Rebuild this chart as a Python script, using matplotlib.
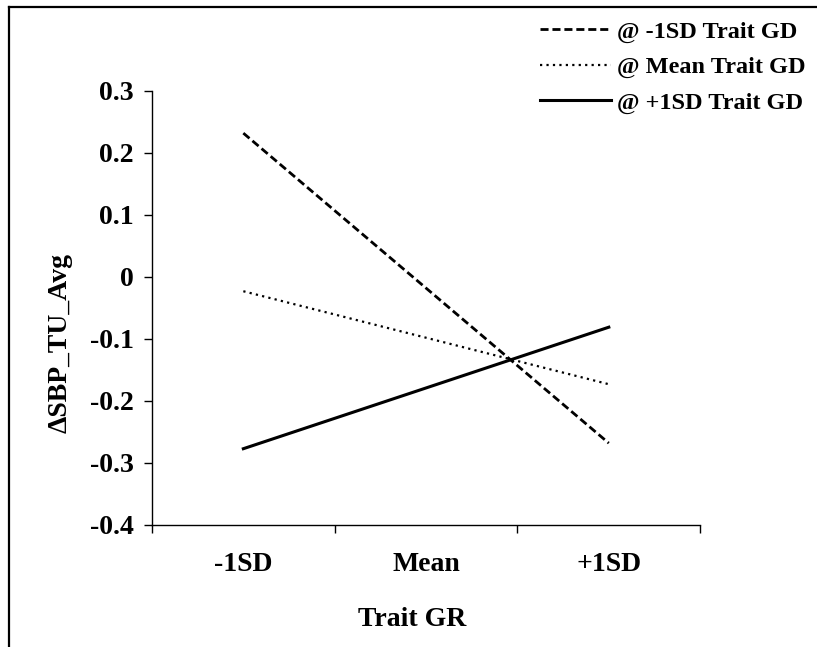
import matplotlib.pyplot as plt
from matplotlib.lines import Line2D

plt.rcParams['font.family'] = ['Liberation Serif', 'DejaVu Serif']
plt.rcParams['font.weight'] = 'bold'

# simple slopes of Trait GR at three levels of Trait GD
categories = ['-1SD', 'Mean', '+1SD']
low_gd = [0.232, -0.018, -0.268]
mean_gd = [-0.023, -0.098, -0.173]
high_gd = [-0.277, -0.179, -0.081]
series_names = ['@ -1SD Trait GD', '@ Mean Trait GD', '@ +1SD Trait GD']
y_ticks = [0.3, 0.2, 0.1, 0, -0.1, -0.2, -0.3, -0.4]

DASH = (0, (2.9, 1.4))
DOT = (0, (1, 1.9))

fig = plt.figure(figsize=(8.17, 6.47), dpi=100)
ax = fig.add_axes([0.186, 0.1886, 0.671, 0.6708])

x = range(len(categories))
ax.plot(x, low_gd, color='black', lw=2.0, ls=DASH)
ax.plot(x, mean_gd, color='black', lw=1.6, ls=DOT)
ax.plot(x, high_gd, color='black', lw=2.2, ls='-')

ax.set_xlim(-0.5, 2.5)
ax.set_ylim(-0.4, 0.3)
ax.set_yticks(y_ticks)
ax.set_yticklabels([('%g' % v) for v in y_ticks])
ax.set_xticks([-0.5, 0.5, 1.5, 2.5])
ax.set_xticklabels([])
ax.set_xticks(list(x), minor=True)
ax.set_xticklabels(categories, minor=True)
ax.tick_params(axis='x', which='minor', length=0, pad=19.5, labelsize=20)
ax.tick_params(axis='x', which='major', length=6, width=1, direction='out')
ax.tick_params(axis='y', length=6, width=1, direction='out', pad=7, labelsize=20)

for side in ['top', 'right']:
    ax.spines[side].set_visible(False)
for side in ['left', 'bottom']:
    ax.spines[side].set_linewidth(1)

ax.set_xlabel('Trait GR', fontsize=20, fontweight='bold')
ax.xaxis.set_label_coords(0.474, -0.188)
ax.set_ylabel('\u0394SBP_TU_Avg', fontsize=20, fontweight='bold')
ax.yaxis.set_label_coords(-0.145, 0.42)

handles = [Line2D([], [], color='black', lw=2.0, ls=DASH),
           Line2D([], [], color='black', lw=1.6, ls=DOT),
           Line2D([], [], color='black', lw=2.2, ls='-')]
fig.legend(handles, series_names, loc='upper left', bbox_to_anchor=(0.661, 0.968),
           frameon=False, prop={'size': 17.5, 'weight': 'bold'},
           borderpad=0, borderaxespad=0,
           handlelength=2.9, handletextpad=0.25, labelspacing=0.55)

# outer frame: top and left edges only
fig.add_artist(Line2D([0.011, 1.0], [0.989, 0.989], color='black', lw=1.6,
                      transform=fig.transFigure))
fig.add_artist(Line2D([0.011, 0.011], [0.0, 0.989], color='black', lw=1.6,
                      transform=fig.transFigure))

fig.savefig('out.png', dpi=100)
